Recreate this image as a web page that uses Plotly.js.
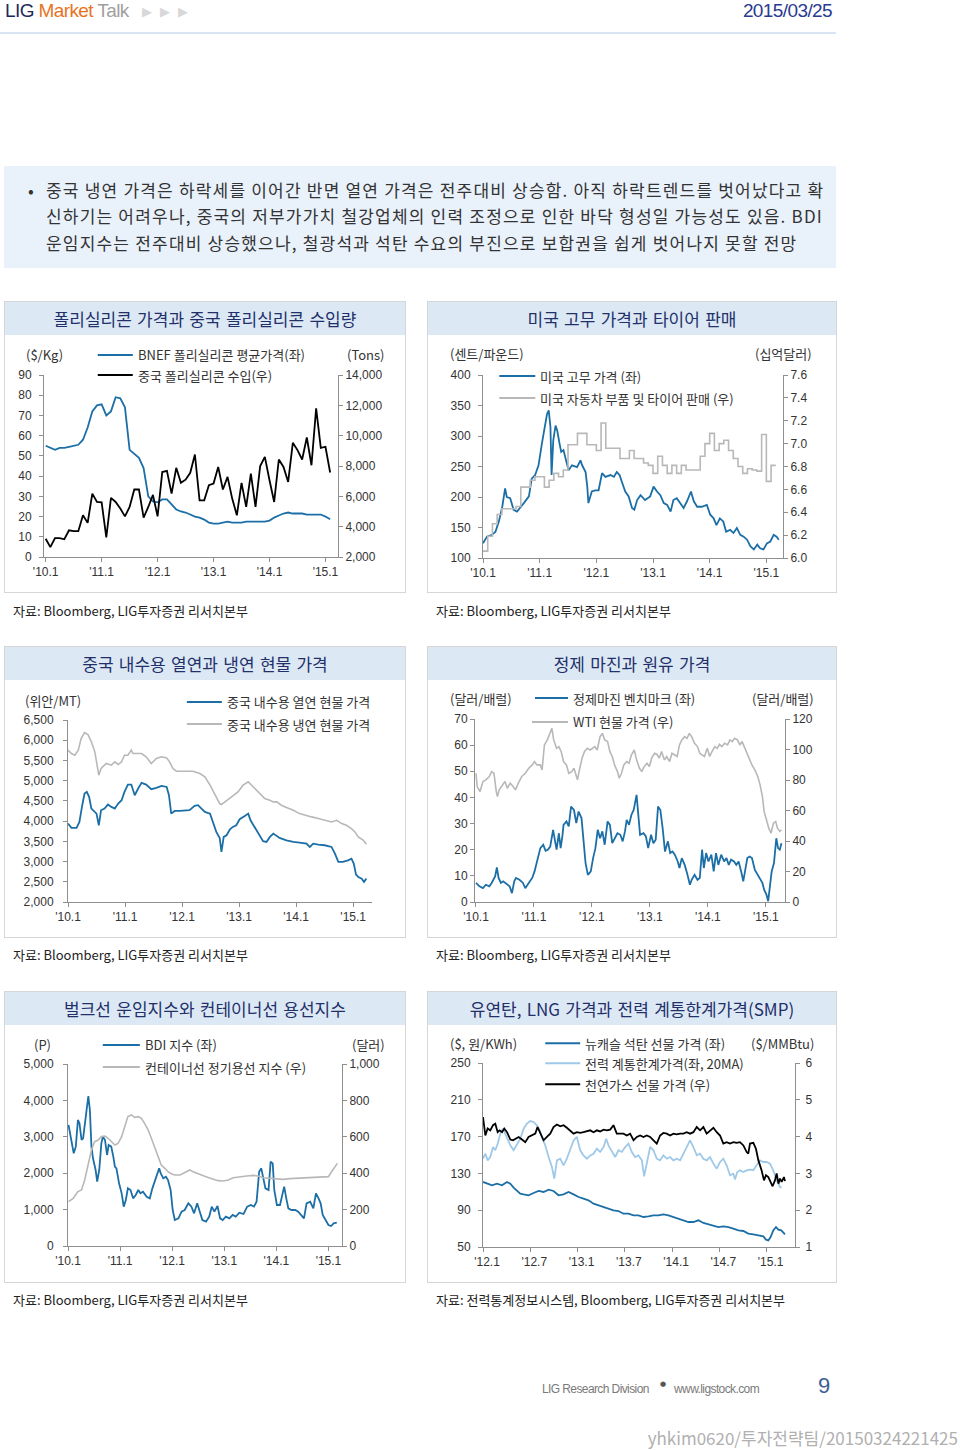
<!DOCTYPE html>
<html><head><meta charset="utf-8">
<script src="https://cdn.plot.ly/plotly-3.0.1.min.js"></script>
<style>
body{margin:0;background:#fff;}
#page{position:relative;width:960px;height:1450px;overflow:hidden;font-family:'Noto Sans CJK KR','Noto Sans',sans-serif;color:#333;background:#fff;}
.abs{position:absolute;white-space:nowrap;}
.panel{position:absolute;border:1px solid #d6d6d6;box-sizing:border-box;background:#fff;}
.ptitle{position:absolute;left:0;right:0;top:0;height:33px;background:#dde8f5;color:#22306a;font-size:17px;line-height:33px;text-align:center;white-space:nowrap;word-spacing:1.5px;}
.src{position:absolute;font-size:13px;color:#222;white-space:nowrap;line-height:18px;}
.bl{position:absolute;left:46px;font-size:17px;line-height:26px;color:#333;white-space:nowrap;letter-spacing:1.2px;}
.chart{position:absolute;}
.ft{position:absolute;white-space:nowrap;font-family:'Liberation Sans',sans-serif;font-size:12px;line-height:16px;color:#7a7a7a;letter-spacing:-0.6px;}
</style></head>
<body>
<div id="page">
  <div class="abs" style="left:5px;top:-1px;font-family:'Liberation Sans Narrow','Liberation Sans',sans-serif;font-size:19px;line-height:24px;letter-spacing:-0.6px;"><span style="color:#1e2859">LIG</span> <span style="color:#e8731f">Market</span> <span style="color:#a0a0a0">Talk</span></div>
  <div class="abs" style="left:142px;top:3px;font-family:'DejaVu Sans',sans-serif;font-size:13px;line-height:18px;color:#d8d8d8;letter-spacing:8px;">▶▶▶</div>
  <div class="abs" style="right:128px;top:-1px;font-family:'Liberation Sans Narrow','Liberation Sans',sans-serif;font-size:19px;line-height:24px;letter-spacing:-0.6px;color:#2a3a8f;">2015/03/25</div>
  <div class="abs" style="left:0;top:32px;width:836px;height:2px;background:#d7e4f1;"></div>

  <div class="abs" style="left:4px;top:166px;width:832px;height:102px;background:#e9f1fb;"></div>
  <div class="abs" style="left:28px;top:177px;font-size:17px;line-height:26px;color:#333;">•</div>
  <div class="bl" style="top:177px;">중국 냉연 가격은 하락세를 이어간 반면 열연 가격은 전주대비 상승함. 아직 하락트렌드를 벗어났다고 확</div>
  <div class="bl" style="top:203px;">신하기는 어려우나, 중국의 저부가가치 철강업체의 인력 조정으로 인한 바닥 형성일 가능성도 있음. BDI</div>
  <div class="bl" style="top:230px;">운임지수는 전주대비 상승했으나, 철광석과 석탄 수요의 부진으로 보합권을 쉽게 벗어나지 못할 전망</div>

  <div class="panel" style="left:4px;top:301px;width:402px;height:292px;"><div class="ptitle">폴리실리콘 가격과 중국 폴리실리콘 수입량</div></div>
  <div class="panel" style="left:427px;top:301px;width:410px;height:292px;"><div class="ptitle">미국 고무 가격과 타이어 판매</div></div>
  <div class="panel" style="left:4px;top:646px;width:402px;height:292px;"><div class="ptitle">중국 내수용 열연과 냉연 현물 가격</div></div>
  <div class="panel" style="left:427px;top:646px;width:410px;height:292px;"><div class="ptitle">정제 마진과 원유 가격</div></div>
  <div class="panel" style="left:4px;top:991px;width:402px;height:292px;"><div class="ptitle">벌크선 운임지수와 컨테이너선 용선지수</div></div>
  <div class="panel" style="left:427px;top:991px;width:410px;height:292px;"><div class="ptitle">유연탄, LNG 가격과 전력 계통한계가격(SMP)</div></div>

  <div class="src" style="left:13px;top:602px;">자료: Bloomberg, LIG투자증권 리서치본부</div>
  <div class="src" style="left:436px;top:602px;">자료: Bloomberg, LIG투자증권 리서치본부</div>
  <div class="src" style="left:13px;top:946px;">자료: Bloomberg, LIG투자증권 리서치본부</div>
  <div class="src" style="left:436px;top:946px;">자료: Bloomberg, LIG투자증권 리서치본부</div>
  <div class="src" style="left:13px;top:1291px;">자료: Bloomberg, LIG투자증권 리서치본부</div>
  <div class="src" style="left:436px;top:1291px;">자료: 전력통계정보시스템, Bloomberg, LIG투자증권 리서치본부</div>

  <div class="chart" id="c1"></div>
  <div class="chart" id="c2"></div>
  <div class="chart" id="c3"></div>
  <div class="chart" id="c4"></div>
  <div class="chart" id="c5"></div>
  <div class="chart" id="c6"></div>

  <div class="ft" style="left:542px;top:1381px;">LIG Research Division</div>
  <div class="abs" style="left:660px;top:1379px;font-family:'DejaVu Sans',sans-serif;font-size:7px;line-height:10px;color:#555;">●</div>
  <div class="ft" style="left:674px;top:1381px;">www.ligstock.com</div>
  <div class="abs" style="left:818px;top:1373px;font-family:'Liberation Sans',sans-serif;font-size:22px;line-height:26px;color:#3d5f8f;">9</div>
  <div class="abs" style="right:2px;top:1427px;font-size:17px;line-height:22px;color:#b0b0b0;">yhkim0620/투자전략팀/20150324221425</div>
</div>

<script>
// ---------------- DATA ----------------
const YEAR_TICKS = [2010, 2011, 2012, 2013, 2014, 2015];
const YEAR_LABELS = ["'10.1", "'11.1", "'12.1", "'13.1", "'14.1", "'15.1"];
const HALF_TICKS = [2012, 2012.5, 2013, 2013.5, 2014, 2014.5, 2015];
const HALF_LABELS = ["'12.1", "'12.7", "'13.1", "'13.7", "'14.1", "'14.7", "'15.1"];

// Chart 1: monthly from 2010.1
const polyStart = 2010;
const bnefPrice = [55,54,53,54,54,54.5,55,55.5,58,64,72,75,75.5,70,72,79,78.5,74,53,51,49,44,30,27.5,27,28.5,28.5,26,23.5,22.5,22,21,20,19.5,18.5,17,16.5,16.5,17,17.5,17,17,17,17.5,17.5,17.5,17.5,17.5,18,19.5,20.5,21.5,22,21.5,21.5,21.5,21,21,21,21,20,18.7];
const chinaImport = [3200,2650,3250,3250,3170,3760,3700,3700,4750,4250,6180,5630,5600,3300,5900,5630,5200,4680,5300,6450,6450,4600,5300,6100,4680,7600,7680,6180,7880,6890,7100,7550,8760,5740,5740,6730,6840,7940,6450,7280,5850,4750,6890,5300,7500,5300,8000,8600,7060,5630,8430,7940,6950,9530,9050,8430,9880,8050,11800,9200,9270,7570];

// Chart 2
const rubberX = [2010.00,2010.07,2010.16,2010.22,2010.28,2010.34,2010.39,2010.42,2010.48,2010.54,2010.60,2010.66,2010.72,2010.81,2010.86,2010.92,2010.98,2011.04,2011.09,2011.13,2011.16,2011.19,2011.21,2011.24,2011.28,2011.31,2011.35,2011.38,2011.42,2011.47,2011.51,2011.57,2011.66,2011.72,2011.75,2011.81,2011.84,2011.86,2011.92,2011.98,2012.04,2012.10,2012.16,2012.25,2012.31,2012.36,2012.41,2012.45,2012.51,2012.57,2012.63,2012.67,2012.72,2012.78,2012.86,2012.95,2013.01,2013.07,2013.13,2013.19,2013.25,2013.31,2013.36,2013.42,2013.48,2013.54,2013.60,2013.67,2013.72,2013.78,2013.86,2013.95,2014.01,2014.07,2014.12,2014.18,2014.24,2014.29,2014.36,2014.42,2014.48,2014.54,2014.60,2014.66,2014.72,2014.78,2014.84,2014.89,2014.95,2015.01,2015.07,2015.13,2015.18,2015.22];
const rubberPrice = [124,135,138,143,160,184,214,200,198,179,176,184,190,201,230,236,252,288,312,336,342,315,236,293,317,309,288,274,277,258,244,252,249,260,252,241,217,190,209,211,211,239,233,236,233,241,236,225,209,201,182,179,195,203,195,201,217,209,203,190,187,176,195,198,190,182,193,209,193,184,184,187,171,165,154,165,160,143,146,141,149,138,135,130,119,114,122,116,114,124,127,138,135,130];
const autoStart = 2010;
const autoSales = [6.06,6.19,6.30,6.38,6.43,6.43,6.43,6.45,6.62,6.62,6.68,6.71,6.71,6.62,6.68,6.74,6.71,6.77,6.99,6.99,7.09,7.09,6.99,6.99,6.94,7.18,6.96,6.96,6.96,6.87,6.87,6.94,6.87,6.87,6.83,6.81,6.74,6.89,6.81,6.74,6.81,6.74,6.81,6.77,6.77,6.77,6.89,7.00,7.09,6.94,7.00,7.03,6.94,6.87,6.80,6.74,6.78,6.77,6.76,7.08,6.67,6.81,6.81];

// Chart 3
const hrX = [2010.00,2010.06,2010.15,2010.20,2010.25,2010.29,2010.33,2010.37,2010.41,2010.47,2010.50,2010.54,2010.58,2010.64,2010.70,2010.76,2010.82,2010.88,2010.94,2010.99,2011.05,2011.11,2011.17,2011.23,2011.29,2011.37,2011.46,2011.55,2011.64,2011.73,2011.77,2011.81,2011.87,2011.96,2012.05,2012.13,2012.22,2012.28,2012.34,2012.40,2012.49,2012.54,2012.60,2012.66,2012.69,2012.73,2012.78,2012.84,2012.89,2012.95,2013.01,2013.10,2013.16,2013.20,2013.25,2013.30,2013.36,2013.42,2013.48,2013.54,2013.60,2013.65,2013.71,2013.83,2013.95,2014.06,2014.18,2014.24,2014.30,2014.39,2014.50,2014.62,2014.68,2014.74,2014.82,2014.91,2014.97,2015.01,2015.05,2015.09,2015.15,2015.19,2015.23];
const hrPrice = [3939,3832,3832,3980,4393,4681,4723,4599,4310,4228,4186,3898,4269,4310,4409,4351,4310,4434,4516,4723,4904,4904,4640,4805,4945,4904,4789,4822,4871,4846,4640,4186,4252,4252,4269,4269,4376,4393,4310,4228,4186,3980,3733,3584,3238,3609,3650,3799,3857,3898,4046,4129,4186,4021,3898,3774,3650,3502,3485,3609,3691,3650,3584,3526,3485,3469,3444,3361,3444,3419,3403,3361,3196,2990,2990,3031,3073,2949,2677,2619,2578,2495,2578];
const crX = [2010.00,2010.06,2010.12,2010.18,2010.23,2010.29,2010.35,2010.41,2010.47,2010.51,2010.54,2010.58,2010.67,2010.76,2010.82,2010.88,2010.94,2010.99,2011.05,2011.11,2011.14,2011.20,2011.29,2011.37,2011.46,2011.55,2011.64,2011.73,2011.78,2011.84,2011.90,2011.99,2012.08,2012.19,2012.31,2012.40,2012.49,2012.57,2012.66,2012.69,2012.75,2012.84,2012.92,2012.98,2013.07,2013.16,2013.22,2013.28,2013.36,2013.45,2013.54,2013.60,2013.66,2013.74,2013.83,2013.95,2014.06,2014.15,2014.27,2014.39,2014.50,2014.62,2014.71,2014.80,2014.88,2014.97,2015.03,2015.09,2015.18,2015.23];
const crPrice = [5754,5671,5630,5754,6043,6191,6142,5960,5713,5424,5135,5300,5424,5383,5465,5400,5465,5630,5630,5754,5671,5671,5671,5589,5424,5548,5589,5564,5465,5300,5234,5234,5234,5234,5176,5094,4888,4681,4434,4409,4475,4558,4640,4723,4888,4970,4888,4805,4681,4558,4516,4475,4475,4393,4335,4269,4186,4145,4104,4063,4021,3980,4021,3939,3898,3815,3733,3609,3526,3427];

// Chart 4
const marginX = [2010.00,2010.06,2010.12,2010.17,2010.23,2010.27,2010.33,2010.36,2010.39,2010.43,2010.47,2010.53,2010.58,2010.62,2010.66,2010.69,2010.75,2010.81,2010.85,2010.91,2010.97,2011.01,2011.05,2011.11,2011.16,2011.20,2011.24,2011.28,2011.33,2011.36,2011.39,2011.43,2011.46,2011.49,2011.51,2011.56,2011.60,2011.64,2011.69,2011.73,2011.77,2011.82,2011.85,2011.89,2011.93,2011.98,2012.02,2012.06,2012.10,2012.14,2012.18,2012.22,2012.27,2012.31,2012.35,2012.39,2012.44,2012.49,2012.53,2012.57,2012.60,2012.64,2012.68,2012.72,2012.74,2012.77,2012.80,2012.83,2012.89,2012.93,2012.97,2013.02,2013.06,2013.10,2013.14,2013.18,2013.22,2013.26,2013.31,2013.35,2013.39,2013.43,2013.48,2013.51,2013.55,2013.60,2013.64,2013.69,2013.72,2013.77,2013.82,2013.86,2013.90,2013.93,2013.97,2014.01,2014.06,2014.10,2014.14,2014.18,2014.23,2014.28,2014.32,2014.36,2014.40,2014.45,2014.49,2014.53,2014.58,2014.61,2014.64,2014.68,2014.72,2014.76,2014.81,2014.86,2014.90,2014.94,2014.97,2015.01,2015.04,2015.07,2015.10,2015.14,2015.18,2015.21,2015.24,2015.27];
const refMargin = [7.3,6.0,5.3,6.6,6.0,7.3,9.8,13.2,9.2,7.3,7.9,6.9,6.0,3.4,7.9,9.2,8.5,7.3,5.3,7.3,9.2,11.7,15.5,20.6,21.9,19.6,20.0,21.2,27.6,24.4,20.0,26.3,20.6,25.1,29.5,30.8,28.9,36.5,35.2,30.2,34.6,32.1,23.2,14.9,10.4,11.7,16.8,20.6,27.6,24.4,27.0,21.9,30.8,29.5,22.5,24.4,26.3,25.7,23.2,27.0,31.4,29.5,33.3,35.2,37.8,41.0,33.3,25.7,26.3,25.1,20.6,25.7,22.5,23.8,36.5,35.2,28.2,19.3,23.2,18.7,19.3,18.1,15.5,13.0,16.8,14.2,11.1,6.6,8.5,10.4,8.5,9.2,20.0,13.0,18.7,15.5,18.1,11.7,18.7,14.2,18.1,15.5,16.8,14.2,16.2,15.5,14.2,15.5,11.1,7.9,11.7,16.8,17.4,16.8,12.3,10.4,9.2,7.3,4.7,2.8,0.3,5.3,11.7,14.9,24.4,20.6,20.0,22.5];
const wtiX = [2010.00,2010.02,2010.07,2010.12,2010.17,2010.23,2010.27,2010.31,2010.35,2010.37,2010.40,2010.46,2010.50,2010.54,2010.59,2010.64,2010.68,2010.73,2010.79,2010.85,2010.91,2010.97,2011.01,2011.05,2011.11,2011.14,2011.18,2011.23,2011.27,2011.31,2011.34,2011.39,2011.43,2011.47,2011.51,2011.56,2011.60,2011.65,2011.69,2011.75,2011.79,2011.83,2011.87,2011.92,2011.97,2012.01,2012.05,2012.09,2012.14,2012.18,2012.22,2012.27,2012.31,2012.35,2012.39,2012.44,2012.47,2012.51,2012.55,2012.60,2012.64,2012.68,2012.73,2012.77,2012.82,2012.86,2012.90,2012.95,2012.99,2013.03,2013.08,2013.12,2013.16,2013.20,2013.25,2013.29,2013.34,2013.38,2013.42,2013.47,2013.51,2013.55,2013.60,2013.64,2013.68,2013.72,2013.77,2013.82,2013.86,2013.90,2013.94,2013.99,2014.03,2014.07,2014.12,2014.16,2014.20,2014.24,2014.29,2014.34,2014.38,2014.42,2014.46,2014.51,2014.55,2014.59,2014.64,2014.68,2014.72,2014.76,2014.81,2014.86,2014.90,2014.94,2014.97,2015.01,2015.05,2015.09,2015.13,2015.17,2015.20,2015.24,2015.27];
const wtiPrice = [84.4,75.7,72.4,79.0,80.1,82.3,85.5,84.4,72.4,69.2,73.5,76.8,79.0,74.6,77.9,75.7,73.5,77.9,82.3,84.4,87.7,89.9,92.1,89.9,89.9,86.6,103.0,106.3,110.6,113.9,106.3,100.8,101.9,98.6,92.1,89.9,84.4,85.5,87.7,80.1,87.7,94.3,98.6,100.8,99.7,100.8,101.9,99.7,108.4,110.6,106.3,105.2,98.6,95.4,89.9,85.5,81.2,84.4,89.9,92.1,91.0,96.4,99.7,93.2,87.7,85.5,88.8,91.0,88.8,94.3,97.5,96.9,94.3,98.6,93.2,95.4,92.1,97.5,96.4,95.4,103.0,106.3,108.4,107.3,110.6,108.4,104.1,101.9,97.5,96.4,95.4,100.8,95.4,98.6,101.9,100.8,103.4,101.9,104.1,103.0,106.3,105.2,107.3,106.3,103.0,105.2,100.8,97.5,93.2,89.9,86.6,82.3,76.8,69.2,59.4,53.9,48.4,45.2,51.7,52.8,48.4,46.3,47.4];

// Chart 5
const bdiX = [2010.01,2010.04,2010.08,2010.11,2010.15,2010.19,2010.22,2010.26,2010.29,2010.33,2010.37,2010.39,2010.42,2010.45,2010.48,2010.53,2010.56,2010.60,2010.64,2010.67,2010.71,2010.75,2010.78,2010.83,2010.87,2010.90,2010.93,2010.98,2011.03,2011.07,2011.11,2011.15,2011.20,2011.25,2011.30,2011.35,2011.39,2011.44,2011.51,2011.57,2011.62,2011.67,2011.71,2011.75,2011.78,2011.83,2011.88,2011.92,2011.97,2012.01,2012.05,2012.12,2012.18,2012.24,2012.31,2012.37,2012.42,2012.48,2012.53,2012.58,2012.65,2012.71,2012.76,2012.81,2012.87,2012.92,2012.97,2013.03,2013.10,2013.16,2013.22,2013.29,2013.37,2013.44,2013.51,2013.57,2013.62,2013.67,2013.71,2013.75,2013.79,2013.85,2013.89,2013.93,2013.96,2014.01,2014.07,2014.12,2014.15,2014.19,2014.23,2014.29,2014.36,2014.42,2014.49,2014.53,2014.58,2014.65,2014.71,2014.76,2014.81,2014.85,2014.89,2014.94,2015.00,2015.05,2015.10,2015.16];
const bdiIndex = [3324,3095,2683,2546,2729,3462,3370,2912,2958,3370,3828,4121,3736,2729,2409,2088,1767,2088,2821,3004,2912,2500,2775,2729,2454,2180,2134,1722,1447,1081,1264,1584,1539,1310,1401,1539,1447,1493,1355,1310,1584,1813,1951,2134,1996,1859,1905,1813,1539,989,714,760,943,989,1172,1081,897,1172,943,714,668,806,1081,943,1099,760,714,806,760,852,806,916,879,1081,1126,1081,1218,2042,2134,1813,1584,1539,2317,2271,1539,1126,1126,1447,1630,1310,1035,989,989,943,806,760,1172,1218,1035,1447,1310,1172,852,714,577,549,623,641];
const boxX = [2010.01,2010.10,2010.19,2010.26,2010.32,2010.38,2010.45,2010.51,2010.58,2010.64,2010.71,2010.77,2010.83,2010.90,2010.96,2011.03,2011.09,2011.15,2011.22,2011.28,2011.35,2011.41,2011.47,2011.54,2011.60,2011.67,2011.73,2011.79,2011.86,2011.92,2011.99,2012.05,2012.15,2012.24,2012.34,2012.40,2012.50,2012.60,2012.69,2012.79,2012.88,2012.98,2013.08,2013.17,2013.30,2013.43,2013.56,2013.65,2013.75,2013.88,2014.01,2014.13,2014.26,2014.39,2014.52,2014.65,2014.78,2014.94,2015.00,2015.06,2015.13,2015.17];
const boxCharter = [244,262,299,308,363,436,527,573,582,601,604,592,573,555,564,601,656,711,720,707,711,701,674,637,592,537,482,445,427,408,396,390,390,403,418,408,399,386,377,366,359,357,363,375,381,385,388,385,375,372,366,366,370,372,375,377,381,381,381,408,436,454];

// Chart 6
const coalX = [2012.000,2012.042,2012.095,2012.148,2012.201,2012.254,2012.289,2012.324,2012.359,2012.394,2012.430,2012.482,2012.535,2012.588,2012.641,2012.694,2012.746,2012.799,2012.852,2012.905,2012.958,2013.011,2013.063,2013.116,2013.169,2013.222,2013.275,2013.327,2013.380,2013.433,2013.486,2013.539,2013.592,2013.644,2013.697,2013.750,2013.803,2013.856,2013.908,2013.961,2014.014,2014.067,2014.120,2014.173,2014.225,2014.278,2014.331,2014.384,2014.437,2014.489,2014.542,2014.595,2014.648,2014.701,2014.754,2014.806,2014.859,2014.912,2014.965,2014.993,2015.018,2015.042,2015.070,2015.099,2015.123,2015.155,2015.194];
const coalPrice = [120.7,118.8,117.0,118.8,117.0,120.7,118.8,114.5,110.9,108.0,107.2,106.2,108.7,110.9,109.8,112.3,110.9,106.2,107.2,109.8,107.2,104.3,102.5,100.7,97.1,95.3,93.5,91.7,89.9,89.1,86.2,86.2,84.4,84.4,82.6,83.3,84.4,84.4,85.5,84.4,82.6,80.8,79.0,77.2,77.2,79.0,76.1,74.6,73.5,71.7,72.5,71.7,69.9,68.1,67.4,64.5,63.8,62.7,61.6,58.0,57.2,60.9,68.1,71.7,68.8,68.1,63.8];
const smpX = [2012.000,2012.025,2012.049,2012.077,2012.106,2012.130,2012.155,2012.183,2012.211,2012.236,2012.261,2012.289,2012.324,2012.359,2012.394,2012.430,2012.465,2012.500,2012.535,2012.570,2012.599,2012.623,2012.658,2012.694,2012.729,2012.754,2012.782,2012.817,2012.852,2012.887,2012.923,2012.958,2012.993,2013.028,2013.063,2013.099,2013.134,2013.169,2013.204,2013.239,2013.275,2013.303,2013.327,2013.363,2013.398,2013.433,2013.468,2013.504,2013.539,2013.574,2013.609,2013.644,2013.680,2013.704,2013.732,2013.768,2013.803,2013.838,2013.873,2013.908,2013.944,2013.979,2014.014,2014.049,2014.085,2014.120,2014.155,2014.190,2014.225,2014.261,2014.296,2014.331,2014.366,2014.401,2014.437,2014.472,2014.507,2014.542,2014.577,2014.613,2014.648,2014.665,2014.690,2014.718,2014.754,2014.789,2014.824,2014.859,2014.894,2014.930,2014.965,2015.000,2015.035,2015.070,2015.106,2015.141,2015.159];
const smpPrice = [146.0,151.4,144.2,147.8,158.7,155.1,162.3,173.2,178.6,173.2,167.7,160.5,155.1,162.3,167.7,178.6,184.1,186.9,185.9,182.2,176.8,169.6,160.5,147.8,137.0,124.3,144.2,146.0,138.8,146.0,155.1,165.9,169.6,155.1,149.6,146.0,149.6,151.4,156.9,153.3,158.7,167.7,160.5,153.3,147.8,155.1,153.3,158.7,162.3,153.3,147.8,149.6,144.2,126.8,140.6,158.7,155.1,146.0,144.2,149.6,146.0,147.8,144.2,146.0,144.2,151.4,158.7,165.9,158.7,149.6,151.4,146.0,144.2,147.8,140.6,135.1,142.4,146.0,138.8,127.9,129.7,123.5,131.5,133.3,131.5,133.3,134.1,133.3,138.8,144.2,142.4,142.4,140.6,133.3,122.5,115.2,114.5];
const gasX = [2012.000,2012.014,2012.025,2012.049,2012.077,2012.106,2012.130,2012.155,2012.176,2012.201,2012.225,2012.254,2012.289,2012.317,2012.342,2012.377,2012.412,2012.447,2012.482,2012.518,2012.553,2012.577,2012.606,2012.641,2012.676,2012.711,2012.746,2012.782,2012.817,2012.852,2012.887,2012.923,2012.958,2012.993,2013.028,2013.063,2013.099,2013.134,2013.169,2013.204,2013.239,2013.275,2013.310,2013.345,2013.380,2013.415,2013.451,2013.486,2013.521,2013.556,2013.592,2013.627,2013.662,2013.697,2013.732,2013.768,2013.803,2013.838,2013.873,2013.908,2013.944,2013.979,2014.014,2014.049,2014.085,2014.120,2014.155,2014.190,2014.225,2014.261,2014.296,2014.331,2014.366,2014.401,2014.437,2014.472,2014.507,2014.542,2014.577,2014.613,2014.648,2014.683,2014.718,2014.754,2014.789,2014.806,2014.824,2014.859,2014.887,2014.912,2014.947,2014.972,2014.993,2015.018,2015.042,2015.063,2015.088,2015.106,2015.125,2015.141,2015.159,2015.183,2015.194];
const gasPrice = [4.53,4.31,4.03,4.22,4.17,4.31,4.35,4.12,4.17,4.12,4.22,4.12,3.92,3.90,3.94,3.99,3.92,3.85,3.99,4.03,4.08,4.26,4.08,3.90,3.99,4.08,4.26,4.33,4.28,4.31,4.24,4.17,4.08,4.12,4.10,4.12,4.15,4.17,4.12,4.17,4.14,4.19,4.17,4.19,4.31,4.08,4.08,4.08,4.03,4.08,3.90,3.99,4.03,3.99,4.03,3.99,3.90,3.81,4.03,4.10,4.08,4.03,4.08,4.06,4.08,4.08,4.12,4.08,4.12,4.26,4.17,4.26,4.08,4.17,4.24,4.12,4.03,3.81,3.85,3.81,3.85,3.83,3.85,3.76,3.58,3.54,3.81,3.83,3.67,3.36,3.08,2.81,2.95,2.90,2.77,2.65,2.81,3.00,2.72,2.86,2.77,2.90,2.79];

// ---------------- STYLE / HELPERS ----------------
const BLUE = '#1c6fa6', GRAY = '#b8b8b8', BLACK = '#000000', LIGHTBLUE = '#9fc9e8';
const FONT = 'Liberation Sans, Noto Sans CJK KR, sans-serif';
const KFONT = 'Noto Sans CJK KR, Liberation Sans, sans-serif';

function monthlyX(start, n) { const a = []; for (let i = 0; i < n; i++) a.push(start + i / 12); return a; }

function axisBase() {
  return {showgrid:false, zeroline:false, showline:true, linecolor:'#8f8f8f', linewidth:1,
          ticks:'outside', ticklen:4, tickcolor:'#8f8f8f', fixedrange:true,
          tickfont:{family:FONT, size:12, color:'#333'}};
}

function drawChart(id, box, plot, traces, xa, ya, ya2, texts, legend) {
  const el = document.getElementById(id);
  el.style.left = box.left + 'px'; el.style.top = box.top + 'px';
  el.style.width = box.w + 'px'; el.style.height = box.h + 'px';
  const W = plot.x1 - plot.x0, H = plot.y1 - plot.y0;
  const px = x => (x - plot.x0) / W, py = y => (plot.y1 - y) / H;
  const ann = [], shp = [];
  texts.forEach(t => ann.push({xref:'paper', yref:'paper', x:px(t.x), y:py(t.y), text:t.text, showarrow:false,
    xanchor:t.anchor || 'center', yanchor:'middle', font:{family:KFONT, size:13, color:'#333'}}));
  legend.forEach(l => {
    shp.push({type:'line', xref:'paper', yref:'paper', x0:px(l.x0), x1:px(l.x1), y0:py(l.y), y1:py(l.y),
      line:{color:l.color, width:l.width || 2}});
    ann.push({xref:'paper', yref:'paper', x:px(l.x1 + 3), y:py(l.y), text:l.text, showarrow:false,
      xanchor:'left', yanchor:'middle', font:{family:KFONT, size:13, color:'#333'}});
  });
  const layout = {
    width:box.w, height:box.h,
    margin:{l:plot.x0 - box.left, r:box.left + box.w - plot.x1, t:plot.y0 - box.top, b:box.top + box.h - plot.y1, pad:0},
    paper_bgcolor:'rgba(0,0,0,0)', plot_bgcolor:'rgba(0,0,0,0)', showlegend:false,
    font:{family:FONT, size:12, color:'#333'},
    xaxis:Object.assign(axisBase(), xa), yaxis:Object.assign(axisBase(), ya),
    annotations:ann, shapes:shp
  };
  if (ya2) layout.yaxis2 = Object.assign(axisBase(), {overlaying:'y', side:'right'}, ya2);
  Plotly.newPlot(el, traces, layout, {staticPlot:true, displayModeBar:false});
}

const yearAxis = (range) => ({range:range, tickvals:YEAR_TICKS, ticktext:YEAR_LABELS});

// Chart 1
drawChart('c1', {left:5, top:336, w:399, h:256}, {x0:44.3, x1:338, y0:375, y1:557},
  [
    {x:monthlyX(polyStart, bnefPrice.length), y:bnefPrice, type:'scatter', mode:'lines', line:{color:BLUE, width:1.8}},
    {x:monthlyX(polyStart, chinaImport.length), y:chinaImport, yaxis:'y2', type:'scatter', mode:'lines', line:{color:BLACK, width:1.8}}
  ],
  yearAxis([2009.97, 2015.224]),
  {range:[0, 90], dtick:10, ticklabelstandoff:5},
  {range:[2000, 14000], dtick:2000, tickformat:',d'},
  [{x:45, y:355, text:'($/Kg)'}, {x:366, y:355, text:'(Tons)'}],
  [{x0:98, x1:133, y:355, color:BLUE, text:'BNEF 폴리실리콘 평균가격(좌)'},
   {x0:98, x1:133, y:375, color:BLACK, text:'중국 폴리실리콘 수입(우)'}]
);

// Chart 2
drawChart('c2', {left:428, top:336, w:408, h:256}, {x0:482.7, x1:782.7, y0:375, y1:558},
  [
    {x:monthlyX(autoStart, autoSales.length), y:autoSales, yaxis:'y2', type:'scatter', mode:'lines', line:{color:GRAY, width:1.6, shape:'hv'}},
    {x:rubberX, y:rubberPrice, type:'scatter', mode:'lines', line:{color:BLUE, width:1.8}}
  ],
  yearAxis([2010, 2015.294]),
  {range:[100, 400], dtick:50, ticklabelstandoff:5},
  {range:[6.0, 7.6], dtick:0.2, tickformat:'.1f'},
  [{x:487, y:353, text:'(센트/파운드)'}, {x:783, y:353, text:'(십억달러)'}],
  [{x0:499, x1:535, y:376, color:BLUE, text:'미국 고무 가격 (좌)'},
   {x0:499, x1:535, y:398, color:GRAY, text:'미국 자동차 부품 및 타이어 판매 (우)'}]
);

// Chart 3
drawChart('c3', {left:5, top:681, w:399, h:256}, {x0:68.3, x1:372, y0:720, y1:901.7},
  [
    {x:crX, y:crPrice, type:'scatter', mode:'lines', line:{color:GRAY, width:1.6}},
    {x:hrX, y:hrPrice, type:'scatter', mode:'lines', line:{color:BLUE, width:1.8}}
  ],
  yearAxis([2010, 2015.33]),
  {range:[2000, 6500], dtick:500, tickformat:',d', ticklabelstandoff:7},
  null,
  [{x:53, y:701, text:'(위안/MT)'}],
  [{x0:187, x1:222, y:702, color:BLUE, text:'중국 내수용 열연 현물 가격'},
   {x0:187, x1:222, y:724, color:GRAY, text:'중국 내수용 냉연 현물 가격'}]
);

// Chart 4
drawChart('c4', {left:428, top:681, w:408, h:256}, {x0:475, x1:785, y0:719, y1:902.3},
  [
    {x:wtiX, y:wtiPrice, yaxis:'y2', type:'scatter', mode:'lines', line:{color:GRAY, width:1.6}},
    {x:marginX, y:refMargin, type:'scatter', mode:'lines', line:{color:BLUE, width:1.8}}
  ],
  yearAxis([2009.983, 2015.33]),
  {range:[0, 70], dtick:10},
  {range:[0, 120], dtick:20},
  [{x:481, y:698, text:'(달러/배럴)'}, {x:782.5, y:698, text:'(달러/배럴)'}],
  [{x0:535, x1:568, y:698, color:BLUE, text:'정제마진 벤치마크 (좌)'},
   {x0:532, x1:568, y:722, color:GRAY, text:'WTI 현물 가격 (우)'}]
);

// Chart 5
drawChart('c5', {left:5, top:1026, w:399, h:256}, {x0:68.3, x1:341.7, y0:1064, y1:1246},
  [
    {x:boxX, y:boxCharter, yaxis:'y2', type:'scatter', mode:'lines', line:{color:GRAY, width:1.6}},
    {x:bdiX, y:bdiIndex, type:'scatter', mode:'lines', line:{color:BLUE, width:1.8}}
  ],
  yearAxis([2010, 2015.26]),
  {range:[0, 5000], dtick:1000, tickformat:',d', ticklabelstandoff:7},
  {range:[0, 1000], dtick:200, tickformat:',d'},
  [{x:43, y:1045, text:'(P)'}, {x:368, y:1045, text:'(달러)'}],
  [{x0:103, x1:140, y:1045, color:BLUE, text:'BDI 지수 (좌)'},
   {x0:103, x1:140, y:1067, color:GRAY, text:'컨테이너선 정기용선 지수 (우)'}]
);

// Chart 6
drawChart('c6', {left:428, top:1026, w:408, h:256}, {x0:482.7, x1:795, y0:1062.7, y1:1246.7},
  [
    {x:smpX, y:smpPrice, type:'scatter', mode:'lines', line:{color:LIGHTBLUE, width:1.8}},
    {x:coalX, y:coalPrice, type:'scatter', mode:'lines', line:{color:BLUE, width:1.8}},
    {x:gasX, y:gasPrice, yaxis:'y2', type:'scatter', mode:'lines', line:{color:BLACK, width:1.8}}
  ],
  {range:[2012, 2015.30], tickvals:HALF_TICKS, ticktext:HALF_LABELS, ticklabelshift:4},
  {range:[50, 250], tick0:50, dtick:40, ticklabelstandoff:5},
  {range:[1, 6], tick0:1, dtick:1, ticklabelstandoff:3},
  [{x:483, y:1043, text:'($, 원/KWh)'}, {x:782, y:1043, text:'($/MMBtu)'}],
  [{x0:545, x1:580, y:1043, color:BLUE, text:'뉴캐슬 석탄 선물 가격 (좌)'},
   {x0:545, x1:580, y:1063, color:LIGHTBLUE, text:'전력 계통한계가격(좌, 20MA)'},
   {x0:545, x1:580, y:1084, color:BLACK, text:'천연가스 선물 가격 (우)'}]
);
</script>
</body></html>
